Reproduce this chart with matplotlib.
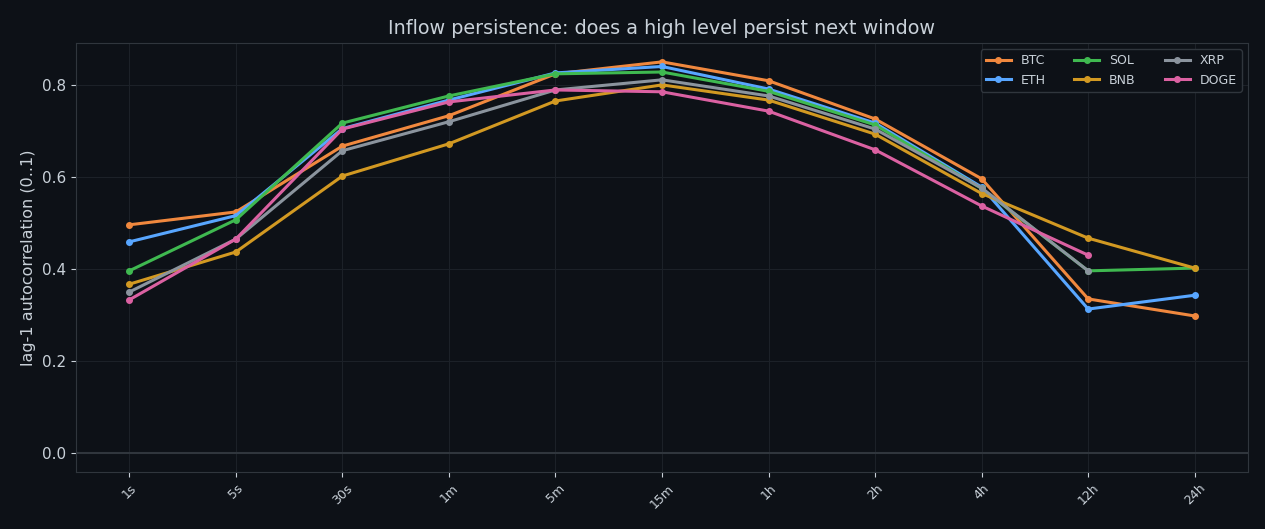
import matplotlib
matplotlib.use("Agg")
import matplotlib.pyplot as plt

windows = ["1s", "5s", "30s", "1m", "5m", "15m", "1h", "2h", "4h", "12h", "24h"]
btc = [0.496, 0.524, 0.667, 0.733, 0.824, 0.850, 0.809, 0.726, 0.596, 0.335, 0.298]
eth = [0.459, 0.516, 0.705, 0.767, 0.826, 0.840, 0.791, 0.717, 0.578, 0.313, 0.343]
sol = [0.396, 0.507, 0.717, 0.776, 0.824, 0.828, 0.786, 0.713, 0.575, 0.396, 0.402]
bnb = [0.367, 0.437, 0.602, 0.672, 0.765, 0.800, 0.767, 0.693, 0.564, 0.467, 0.402]
xrp = [0.350, 0.465, 0.657, 0.720, 0.789, 0.811, 0.776, 0.704, 0.576, 0.396]
doge = [0.333, 0.465, 0.704, 0.763, 0.789, 0.785, 0.743, 0.659, 0.537, 0.430]

series = [
    ("BTC", btc, "#f0883e"),
    ("ETH", eth, "#58a6ff"),
    ("SOL", sol, "#3fb950"),
    ("BNB", bnb, "#d29922"),
    ("XRP", xrp, "#8b949e"),
    ("DOGE", doge, "#db61a2"),
]

bg = "#0d1117"
fg = "#c9d1d9"
grid = "#1c2128"
spine = "#30363d"

fig = plt.figure(figsize=(12.65, 5.29), dpi=100, facecolor=bg)
ax = fig.add_axes([76/1265, 1 - 472/529, (1248-76)/1265, (472-43)/529])
ax.set_facecolor(bg)

x = list(range(len(windows)))
for name, vals, col in series:
    ax.plot(x[:len(vals)], vals, color=col, lw=2.2, marker="o", ms=4, label=name)

ax.axhline(0, color=spine, lw=1.5, zorder=1)
ax.set_xlim(-0.5, 10.5)
ax.set_ylim(-0.041, 0.891)
ax.set_xticks(x)
ax.set_xticklabels(windows, rotation=45, fontsize=9, color=fg)
ax.set_yticks([0.0, 0.2, 0.4, 0.6, 0.8])
ax.tick_params(axis="y", labelsize=11, colors=fg)
ax.tick_params(axis="x", colors=fg)
ax.grid(True, color=grid, lw=0.8)
ax.set_axisbelow(True)
for s in ax.spines.values():
    s.set_color(spine)
ax.set_ylabel("lag-1 autocorrelation (0..1)", color=fg, fontsize=11.5)
ax.set_title("Inflow persistence: does a high level persist next window", color=fg,
             fontsize=13.8, pad=6.5)
leg = ax.legend(ncol=3, fontsize=9, loc="upper right", facecolor=bg, edgecolor=spine,
                labelcolor=fg, framealpha=1, borderaxespad=0.5, columnspacing=2.3)
fig.savefig("out.png", dpi=100, facecolor=bg)
